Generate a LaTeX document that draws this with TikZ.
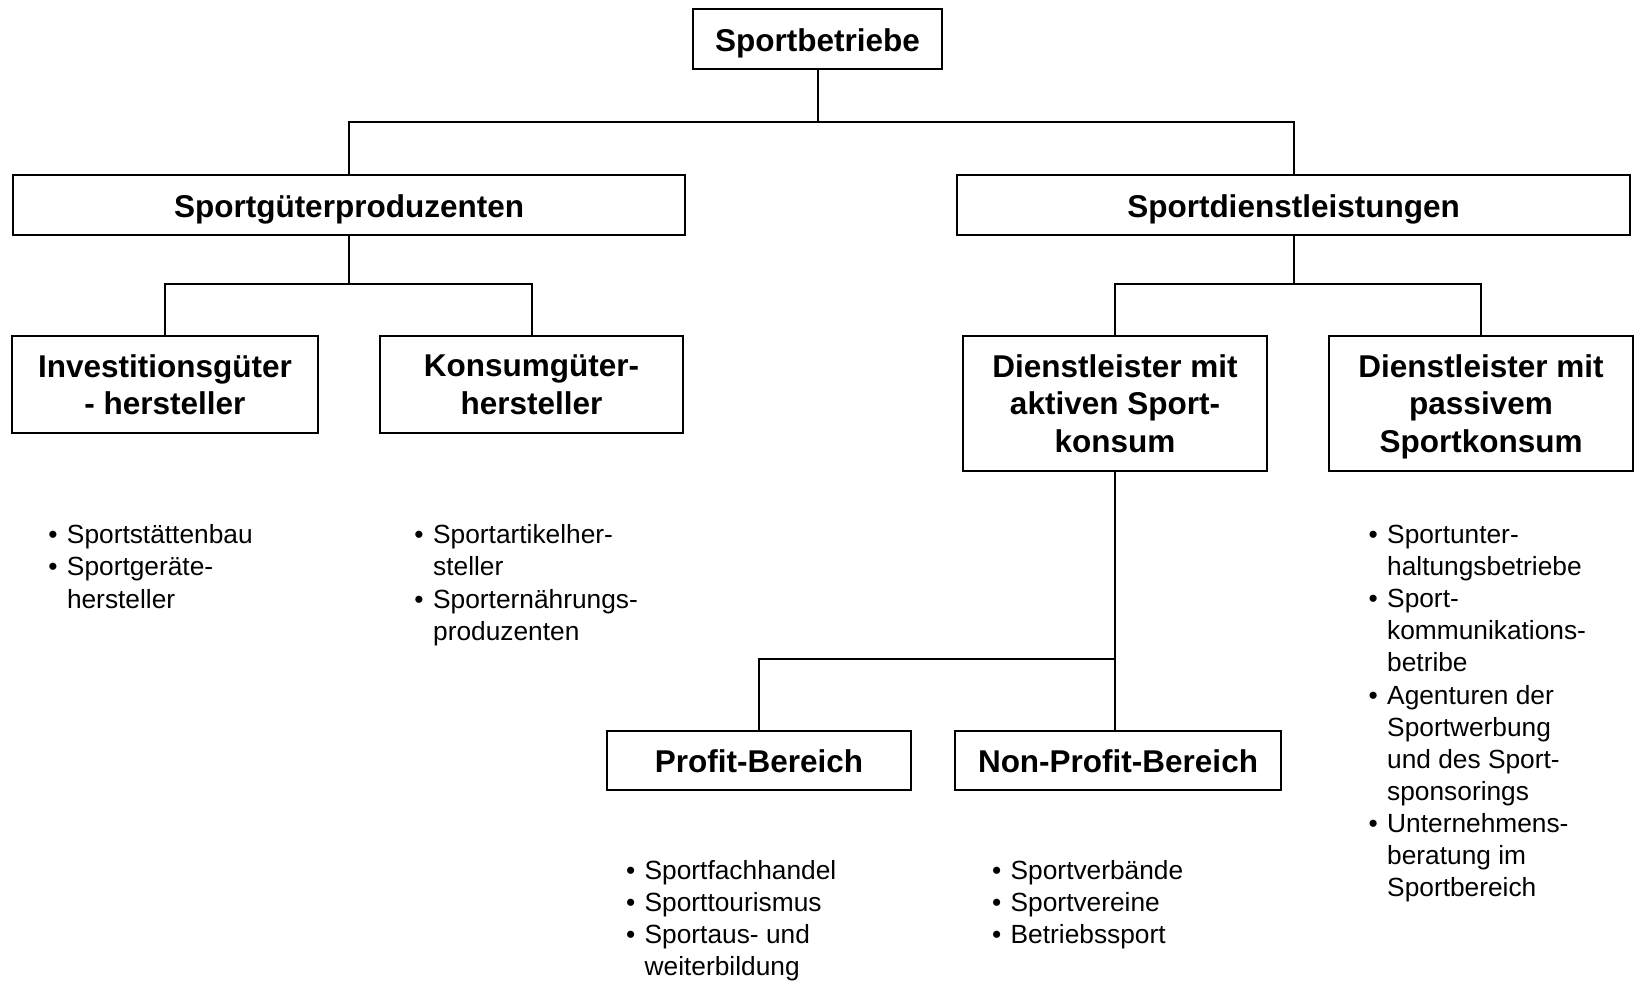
\documentclass[tikz,border=0pt]{standalone}
\usepackage{fontspec}
\setmainfont{Liberation Sans}
\usepackage{tikz}
\usetikzlibrary{positioning}

\tikzset{
  box/.style={draw, line width=2pt, inner sep=0pt, align=center,
    minimum height=59.5pt, text depth=0pt,
    execute at begin node={\rule{0pt}{24.6pt}},
    font=\fontsize{31.5}{37.5}\selectfont\bfseries},
  list/.style={anchor=north west, inner sep=0pt, align=left,
    font=\fontsize{26.3}{32.2}\selectfont},
  link/.style={line width=2pt}
}
\newcommand{\itm}{\llap{\textbullet\hspace{9.5pt}}}

\begin{document}
\begin{tikzpicture}[x=1pt, y=-1pt]
  \useasboundingbox (0,0) rectangle (1635,982);

  % boxes
  \node[box, minimum width=249pt] (top) at (817.5,39) {Sportbetriebe};
  \node[box, minimum width=672.5pt] (prod) at (349,205) {Sportgüterproduzenten};
  \node[box, minimum width=673pt] (dienst) at (1293.5,205) {Sportdienstleistungen};
  \node[box, minimum width=305.5pt, minimum height=97pt] (invest) at (165,384.5) {Investitionsgüter\\- hersteller};
  \node[box, minimum width=303pt, minimum height=97pt] (konsum) at (531.5,384.5) {Konsumgüter-\\hersteller};
  \node[box, minimum width=304pt, minimum height=135pt] (aktiv) at (1115,403.5) {Dienstleister mit\\aktiven Sport-\\konsum};
  \node[box, minimum width=304pt, minimum height=135pt] (passiv) at (1481,403.5) {Dienstleister mit\\passivem\\Sportkonsum};
  \node[box, minimum width=304pt] (profit) at (759,760.5) {Profit-Bereich};
  \node[box, minimum width=326pt] (nonprofit) at (1118,760.5) {Non-Profit-Bereich};

  % branch points
  \coordinate (b1) at (817.5,122);
  \coordinate (b2) at (349,283.5);
  \coordinate (b3) at (1293.5,283.5);
  \coordinate (b4) at (1115,659);

  % connectors
  \draw[link] (top.south) -- (b1);
  \draw[link] (prod.north) |- (b1) -| (dienst.north);
  \draw[link] (prod.south) -- (b2);
  \draw[link] (invest.north) |- (b2) -| (konsum.north);
  \draw[link] (dienst.south) -- (b3);
  \draw[link] (aktiv.north) |- (b3) -| (passiv.north);
  \draw[link] (aktiv.south) -- (aktiv.south |- nonprofit.north);
  \draw[link] (profit.north) |- (b4);

  % lists
  \node[list] (l1) at (66.8,520.9) {\strut\itm Sportstättenbau\\\itm Sportgeräte-\\hersteller};
  \node[list] (l2) at (433,520.9) {\strut\itm Sportartikelher-\\steller\\\itm Sporternährungs-\\produzenten};
  \node[list, font=\fontsize{26.3}{32.1}\selectfont] (l3) at (1387,520.9) {\strut\itm Sportunter-\\haltungsbetriebe\\\itm Sport-\\kommunikations-\\betribe\\\itm Agenturen der\\Sportwerbung\\und des Sport-\\sponsorings\\\itm Unternehmens-\\beratung im\\Sportbereich};
  \node[list] (l4) at (644.5,856.4) {\strut\itm Sportfachhandel\\\itm Sporttourismus\\\itm Sportaus- und\\weiterbildung};
  \node[list] (l5) at (1010.5,856.4) {\strut\itm Sportverbände\\\itm Sportvereine\\\itm Betriebssport};
\end{tikzpicture}
\end{document}
